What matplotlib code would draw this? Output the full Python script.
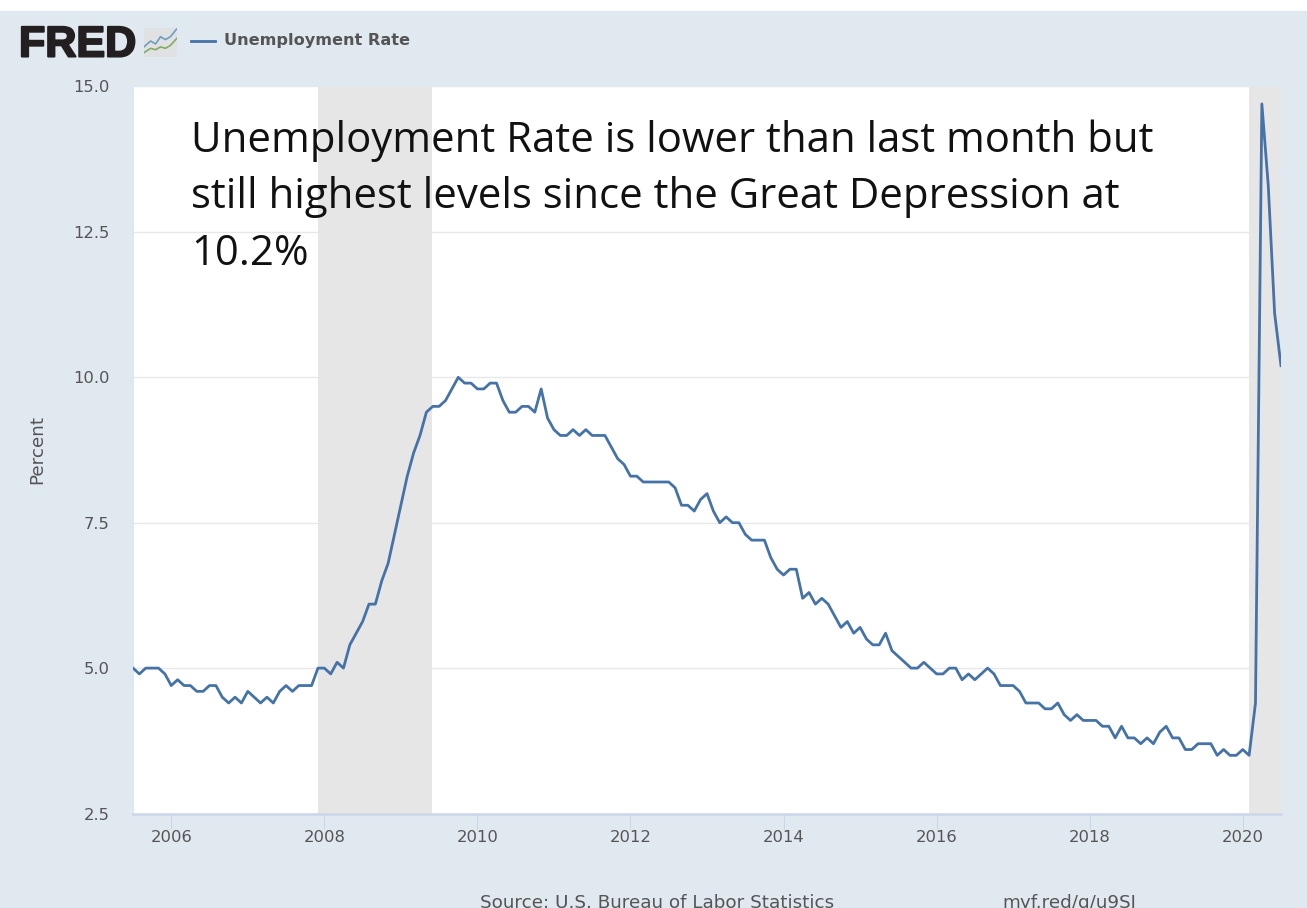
import matplotlib
matplotlib.use("Agg")
import matplotlib.pyplot as plt
from matplotlib.patches import Rectangle
import matplotlib.patheffects as pe

W, H = 1307, 908
START_YEAR, START_MONTH = 2005, 7

unrate = [
    5.0, 4.9, 5.0, 5.0, 5.0, 4.9,
    4.7, 4.8, 4.7, 4.7, 4.6, 4.6, 4.7, 4.7, 4.5, 4.4, 4.5, 4.4,
    4.6, 4.5, 4.4, 4.5, 4.4, 4.6, 4.7, 4.6, 4.7, 4.7, 4.7, 5.0,
    5.0, 4.9, 5.1, 5.0, 5.4, 5.6, 5.8, 6.1, 6.1, 6.5, 6.8, 7.3,
    7.8, 8.3, 8.7, 9.0, 9.4, 9.5, 9.5, 9.6, 9.8, 10.0, 9.9, 9.9,
    9.8, 9.8, 9.9, 9.9, 9.6, 9.4, 9.4, 9.5, 9.5, 9.4, 9.8, 9.3,
    9.1, 9.0, 9.0, 9.1, 9.0, 9.1, 9.0, 9.0, 9.0, 8.8, 8.6, 8.5,
    8.3, 8.3, 8.2, 8.2, 8.2, 8.2, 8.2, 8.1, 7.8, 7.8, 7.7, 7.9,
    8.0, 7.7, 7.5, 7.6, 7.5, 7.5, 7.3, 7.2, 7.2, 7.2, 6.9, 6.7,
    6.6, 6.7, 6.7, 6.2, 6.3, 6.1, 6.2, 6.1, 5.9, 5.7, 5.8, 5.6,
    5.7, 5.5, 5.4, 5.4, 5.6, 5.3, 5.2, 5.1, 5.0, 5.0, 5.1, 5.0,
    4.9, 4.9, 5.0, 5.0, 4.8, 4.9, 4.8, 4.9, 5.0, 4.9, 4.7, 4.7,
    4.7, 4.6, 4.4, 4.4, 4.4, 4.3, 4.3, 4.4, 4.2, 4.1, 4.2, 4.1,
    4.1, 4.1, 4.0, 4.0, 3.8, 4.0, 3.8, 3.8, 3.7, 3.8, 3.7, 3.9,
    4.0, 3.8, 3.8, 3.6, 3.6, 3.7, 3.7, 3.7, 3.5, 3.6, 3.5, 3.5,
    3.6, 3.5, 4.4, 14.7, 13.3, 11.1, 10.2,
]
recessions = [(2007.917, 2009.412), (2020.083, 2020.5)]
x_ticks = [2006, 2008, 2010, 2012, 2014, 2016, 2018, 2020]
y_ticks = [2.5, 5.0, 7.5, 10.0, 12.5, 15.0]
overlay_lines = [
    "Unemployment Rate is lower than last month but",
    "still highest levels since the Great Depression at",
    "10.2%",
]

BG = "#e1e9f0"
LINE = "#4572a7"
TXT = "#555555"

years = [START_YEAR + (START_MONTH - 1 + i) / 12 for i in range(len(unrate))]

fig = plt.figure(figsize=(W / 100, H / 100), dpi=100, facecolor=BG)


def fx(px):
    return px / W


def fy(py):
    return 1 - py / H


# white strip along the top of the screenshot
fig.patches.append(Rectangle((0, fy(11)), 1, 11 / H, transform=fig.transFigure,
                             facecolor="white", edgecolor="none"))

ax = fig.add_axes([fx(133), fy(813.5), (1281 - 133) / W, (813.5 - 86.5) / H])
ax.set_facecolor("white")
ax.set_xlim(2005.5, 2020.5)
ax.set_ylim(2.5, 15.0)
for a, b in recessions:
    ax.axvspan(a, b, facecolor="#e6e6e6", edgecolor="none", zorder=1.5)
ax.plot(years, unrate, color=LINE, lw=2.0, zorder=3, solid_joinstyle="round", clip_on=True)

ax.set_yticks(y_ticks)
ax.set_yticklabels([f"{v:.1f}" for v in y_ticks])
ax.set_xticks(x_ticks)
ax.grid(axis="y", color="#e8e8e8", lw=1.0, zorder=1)
ax.set_axisbelow(True)
for s in ("top", "right"):
    ax.spines[s].set_visible(False)
ax.spines["left"].set_color("#dce8f4")
ax.spines["left"].set_linewidth(2.16)
ax.spines["left"].set_position(("outward", 1.08))
ax.spines["bottom"].set_color("#ccd6eb")
ax.spines["bottom"].set_linewidth(1.8)
ax.tick_params(axis="y", length=0, pad=15.5, labelsize=11.8, labelcolor=TXT)
ax.tick_params(axis="x", length=10.5, width=0.8, color="#ccd6eb", pad=1.5, labelsize=11.8, labelcolor=TXT)

fig.text(fx(37), fy(449), "Percent", rotation=90, ha="center", va="center",
         fontsize=13.2, color=TXT)

# header: logo, icon, legend
fig.text(fx(19), fy(56.5), "FRED", fontsize=31, fontweight="bold", family="Liberation Sans",
         color="#231f20", ha="left", va="baseline",
         path_effects=[pe.withStroke(linewidth=1.5, foreground="#231f20")])
icon = fig.add_axes([fx(144), fy(57), 33 / W, 29 / H])
icon.set_facecolor("#dfe1e3")
icon.set_xlim(0, 10)
icon.set_ylim(0, 10)
icon.set_xticks([])
icon.set_yticks([])
for s in icon.spines.values():
    s.set_visible(False)
icon.plot([0, 2, 3.5, 5, 6.5, 8, 10], [3.5, 5.5, 4.5, 7, 6, 7, 9.8], color="#6f9dbf", lw=1.2)
icon.plot([0, 2, 3.5, 5, 6.5, 8, 10], [1.5, 3, 2.5, 3.5, 3, 4, 6.5], color="#84ab63", lw=1.2)

fig.add_artist(plt.Line2D([fx(191), fx(215)], [fy(41), fy(41)], color=LINE, lw=2.0,
                          transform=fig.transFigure))
fig.text(fx(224), fy(41), "Unemployment Rate", fontsize=11.6, fontweight="bold",
         color="#555555", ha="left", va="center")

# annotation overlay
for text, base in zip(overlay_lines, [152, 208, 265]):
    fig.text(fx(191), fy(base), text, fontsize=30.2, family="Open Sans", color="#111111",
             ha="left", va="baseline", zorder=10)

# footer, cut by the bottom edge of the screenshot
fig.text(fx(480), fy(908), "Source: U.S. Bureau of Labor Statistics", fontsize=13.2,
         color=TXT, ha="left", va="baseline")
fig.text(fx(1002), fy(908), "myf.red/g/u9SI", fontsize=13.2, color=TXT, ha="left", va="baseline")

fig.savefig("out.png", dpi=100, facecolor=BG)
